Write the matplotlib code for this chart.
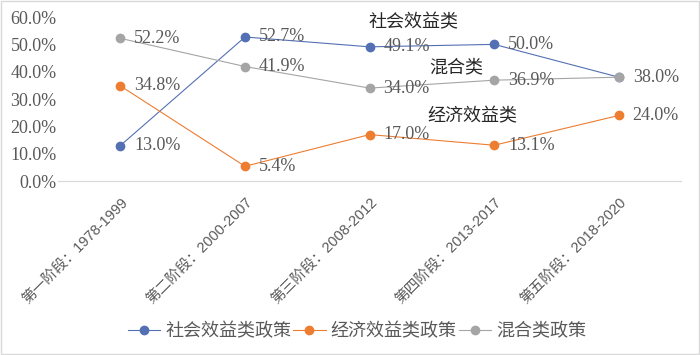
import matplotlib
matplotlib.use("Agg")
import matplotlib.pyplot as plt
from matplotlib.patches import Rectangle

# data
stages = ["第一阶段：1978-1999", "第二阶段：2000-2007", "第三阶段：2008-2012",
          "第四阶段：2013-2017", "第五阶段：2018-2020"]
social = [13.0, 52.7, 49.1, 50.0, 38.0]
economic = [34.8, 5.4, 17.0, 13.1, 24.0]
mixed = [52.2, 41.9, 34.0, 36.9, 38.0]
series_names = ["社会效益类政策", "经济效益类政策", "混合类政策"]
colors = ["#5470B4", "#ED7D31", "#A5A5A5"]

serif = ["Liberation Serif", "Noto Sans CJK SC"]
sans = ["Liberation Sans", "Noto Sans CJK SC"]
plt.rcParams["font.family"] = serif

fig = plt.figure(figsize=(7, 3.55), dpi=100)
ax = fig.add_axes([0.083, 0.49, 0.89, 0.462])

x = list(range(len(stages)))
labelled = set()
for vals, name, c in zip([social, economic, mixed], series_names, colors):
    ax.plot(x, vals, color=c, lw=0.8, marker="o", ms=6, mec=c, mfc=c, label=name)
    for xi, v in zip(x, vals):
        # identical labels on the same spot would be drawn twice and look bold
        if (xi, v) in labelled:
            continue
        labelled.add((xi, v))
        ax.annotate("%.1f%%" % v, (xi, v), xytext=(10, 0), textcoords="offset points",
                    va="center", ha="left", fontsize=13, color="#595959",
                    family=serif)

# category notes inside the plot
ax.text(1.99, 57.8, "社会效益类", fontsize=13, color="#262626", va="center", family=sans)
ax.text(2.48, 41.3, "混合类", fontsize=13, color="#262626", va="center", family=sans)
ax.text(2.46, 23.4, "经济效益类", fontsize=13, color="#262626", va="center", family=sans)

ax.set_xlim(-0.5, 4.5)
ax.set_ylim(0, 60)
ax.set_yticks(range(0, 61, 10))
ax.set_yticklabels(["%.1f%%" % t for t in range(0, 61, 10)], fontsize=13, color="#595959")
ax.set_xticks(x)
ax.set_xticklabels(stages, rotation=45, ha="right", rotation_mode="anchor",
                   fontsize=10.5, color="#595959", family=sans)
ax.tick_params(length=0, pad=1)
ax.tick_params(axis="x", pad=10)
for s in ["top", "right", "left"]:
    ax.spines[s].set_visible(False)
ax.spines["bottom"].set_color("#D9D9D9")

leg = fig.legend(loc="center", bbox_to_anchor=(0.51, 0.065), ncol=3, frameon=False,
                 handlelength=1.8, columnspacing=0.1, handletextpad=0.28,
                 prop={"family": sans, "size": 13})
for t in leg.get_texts():
    t.set_color("#595959")

fig.patches.append(Rectangle((0.001, 0.003), 0.997, 0.994, transform=fig.transFigure,
                             fill=False, ec="#D9D9D9", lw=1))

fig.savefig("out.png", dpi=100)
